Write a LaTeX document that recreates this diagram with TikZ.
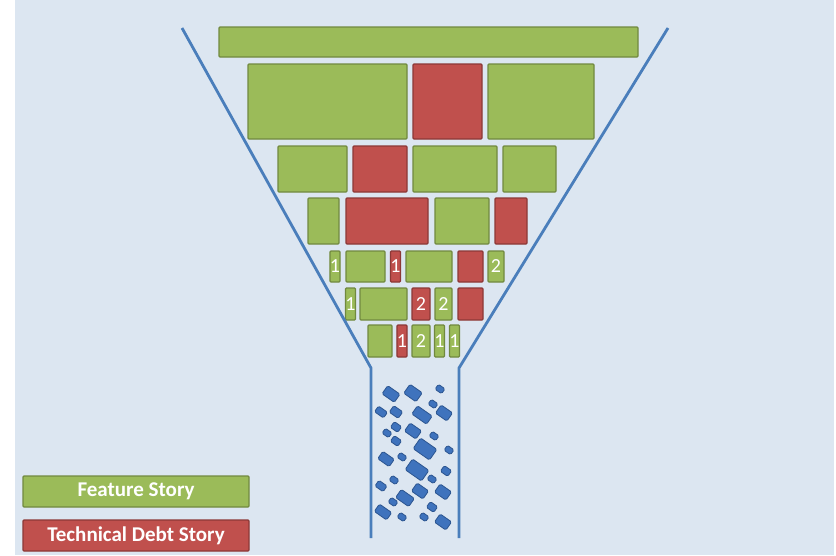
\documentclass[tikz,border=0pt]{standalone}
\usepackage{fontspec}
\setmainfont{Carlito}
\usepackage{xcolor}
\usepackage{tikz}

\definecolor{bgblue}{HTML}{DCE6F1}
\definecolor{featgreen}{HTML}{9BBB59}
\definecolor{featedge}{HTML}{71893F}
\definecolor{debtred}{HTML}{C0504D}
\definecolor{debtedge}{HTML}{8C3836}
\definecolor{funnelblue}{HTML}{4A7EBB}
\definecolor{chipblue}{HTML}{3F73BD}
\definecolor{chipedge}{HTML}{2C5590}

\begin{document}
\begin{tikzpicture}[
x=1pt, y=-1pt,
feat/.style={draw=featedge, fill=featgreen, line width=1.2pt, rounded corners=1pt, inner sep=0pt, text=white, font=\fontsize{20}{20}\selectfont},
debt/.style={draw=debtedge, fill=debtred, line width=1.2pt, rounded corners=1pt, inner sep=0pt, text=white, font=\fontsize{20}{20}\selectfont},
chip/.style={draw=chipedge, fill=chipblue, line width=0.8pt, rounded corners=1.5pt, inner sep=0pt, rotate=-35},
funnel/.style={draw=funnelblue, line width=2.8pt},
legend/.style={minimum width=226pt, minimum height=31pt, font=\bfseries\fontsize{21}{21}\selectfont}
]

% page and background
\useasboundingbox (0,0) rectangle (836,555);
\fill[bgblue] (15,0) rectangle (834,555);

% stories: name/left/top/right/bottom/label
\foreach \nm/\xa/\ya/\xb/\yb/\lb in {
  a1/219/27/638/57/{},
  b1/248/64/407/139/{}, b3/488/64/594/139/{},
  c1/278/146/347/192/{}, c3/413/146/497/192/{}, c4/503/146/556/192/{},
  d1/308/198/339/244/{}, d3/435/198/489/244/{},
  e1/331/251/339/282/1, e2/346/251/385/282/{}, e4/406/251/452/282/{}, e6/488/251/504/282/2,
  f1/346/288/355/320/1, f2/360/288/407/320/{}, f4/435/288/452/320/2,
  g1/368/325/392/357/{}, g3/412/325/430/357/2, g4/435/325/444/357/1, g5/450/325/459/357/1}
  \node[feat, minimum width={\xb-\xa}, minimum height={\yb-\ya}] (\nm) at ({(\xa+\xb)/2},{(\ya+\yb)/2}) {\lb};

\foreach \nm/\xa/\ya/\xb/\yb/\lb in {
  b2/413/64/482/139/{},
  c2/353/146/407/192/{},
  d2/346/198/428/244/{}, d4/495/198/527/244/{},
  e3/391/251/400/282/1, e5/458/251/483/282/{},
  f3/412/288/430/320/2, f5/458/288/483/320/{},
  g2/397/325/407/357/1}
  \node[debt, minimum width={\xb-\xa}, minimum height={\yb-\ya}] (\nm) at ({(\xa+\xb)/2},{(\ya+\yb)/2}) {\lb};

% funnel
\coordinate (ltop) at (182,28);
\coordinate (lneck) at (371,368);
\coordinate (lbot) at (371,538);
\coordinate (rtop) at (668,28);
\coordinate (rneck) at (459,368);
\coordinate (rbot) at (459,538);
\draw[funnel] (ltop) -- (lneck) -- (lbot);
\draw[funnel] (rtop) -- (rneck) -- (rbot);

% finished work falling out
\foreach \cx/\cy/\w/\h in {
  391/394/15/10, 413/393/15/11, 440/389/8/6,
  381/412/11/7, 396/412/11/8, 422/415/18/10, 433/404/8/6, 444/413/14/10,
  387/433/8/6, 396/427/9/7, 413/431/14/10, 396/441/9/7, 434/436/8/6,
  425/449/20/13, 449/450/8/6, 386/459/14/9, 402/457/8/6,
  417/470/20/13, 446/471/9/7, 432/479/8/6, 394/480/8/6, 381/486/10/7,
  420/491/14/10, 405/498/16/10, 443/492/14/10, 393/502/8/6,
  432/507/9/7, 383/512/15/9, 402/517/8/6, 424/517/8/6, 443/522/14/10}
  \node[chip, minimum width=\w, minimum height=\h] at (\cx,\cy) {};

% legend
\node[feat, legend] (leg1) at (136,491.5) {Feature Story};
\node[debt, legend] (leg2) at (136,535.5) {Technical Debt Story};

\end{tikzpicture}
\end{document}
